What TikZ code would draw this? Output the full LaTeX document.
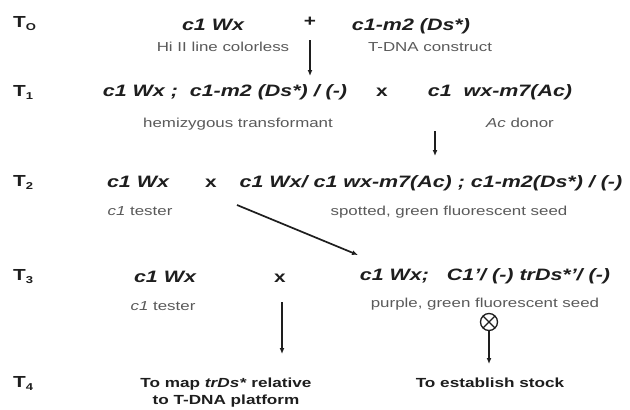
\documentclass[tikz,border=0pt]{standalone}
\usepackage{fontspec}
\setmainfont{Liberation Sans}[FakeStretch=1.3]
\usetikzlibrary{arrows.meta}
\definecolor{ink}{HTML}{1E1E1E}
\definecolor{soft}{HTML}{5A5A5A}
\begin{document}
\begin{tikzpicture}[x=1pt,y=-1pt,
  gen/.style={inner sep=0pt,anchor=base,text=ink,font=\fontsize{16.5}{18}\selectfont\bfseries\itshape},
  note/.style={inner sep=0pt,anchor=base,text=soft,font=\fontsize{13}{15}\selectfont},
  tlab/.style={inner sep=0pt,anchor=base west,text=ink,font=\fontsize{16}{18}\selectfont\bfseries},
  fin/.style={inner sep=0pt,anchor=base,text=ink,align=center,font=\fontsize{13.2}{17}\selectfont\bfseries},
  cross/.style={inner sep=0pt,anchor=base,text=ink,font=\fontsize{16}{18}\selectfont\bfseries},
  arr/.style={draw=ink,line width=1.7pt,-{Latex[length=6pt,width=5pt]}},
  selfing/.style={circle,draw=ink,line width=1.3pt,minimum size=17pt,inner sep=0pt,
    path picture={\draw[ink,line width=1.1pt] (path picture bounding box.north west)--(path picture bounding box.south east)
      (path picture bounding box.north east)--(path picture bounding box.south west);}}]
\useasboundingbox[fill=white] (0,0) rectangle (630,410);
% generation labels
\node[tlab] (t0) at (13,27) {T\raisebox{-3pt}{\fontsize{10}{10}\selectfont O}};
\node[tlab] (t1) at (13,96) {T\raisebox{-3pt}{\fontsize{10}{10}\selectfont 1}};
\node[tlab] (t2) at (13,186) {T\raisebox{-3pt}{\fontsize{10}{10}\selectfont 2}};
\node[tlab] (t3) at (13,280) {T\raisebox{-3pt}{\fontsize{10}{10}\selectfont 3}};
\node[tlab] (t4) at (13,387) {T\raisebox{-3pt}{\fontsize{10}{10}\selectfont 4}};
% T0
\node[gen] (g0a) at (213,30) {c1 Wx};
\node[inner sep=0pt,text=ink,font=\fontsize{16}{18}\selectfont\bfseries] (plus) at (310,22) {+};
\node[gen] (g0b) at (411,30) {c1-m2 (Ds*)};
\node[note] (n0a) at (223,51) {Hi II line colorless};
\node[note] (n0b) at (430,51) {T-DNA construct};
% T1
\node[gen] (g1a) at (225,96) {c1 Wx ;\ \ c1-m2 (Ds*) / (-)};
\node[cross] (x1) at (382,96) {x};
\node[gen] (g1b) at (500,96) {c1\ \ wx-m7(Ac)};
\node[note] (n1a) at (238,127) {hemizygous transformant};
\node[note] (n1b) at (520,127) {\textit{Ac} donor};
% T2
\node[gen] (g2a) at (138,187) {c1 Wx};
\node[cross] (x2) at (211,187) {x};
\node[gen] (g2b) at (431,187) {c1 Wx/ c1 wx-m7(Ac) ; c1-m2(Ds*) / (-)};
\node[note] (n2a) at (140,215) {\textit{c1} tester};
\node[note] (n2b) at (449,215) {spotted, green fluorescent seed};
% T3
\node[gen] (g3a) at (165,282) {c1 Wx};
\node[cross] (x3) at (280,282) {x};
\node[gen] (g3b) at (485,280) {c1 Wx;\ \ \ C1'/ (-) trDs*'/ (-)};
\node[note] (n3a) at (163,310) {\textit{c1} tester};
\node[note] (n3b) at (485,307) {purple, green fluorescent seed};
\node[selfing] (self) at (489,322) {};
% T4
\node[fin] (f1) at (226,404) {To map \textit{trDs*} relative\\to T-DNA platform};
\node[fin] (f2) at (490,387) {To establish stock};
% arrow ends
\coordinate (a1s) at (310,40);
\coordinate (a1e) at (310,76);
\coordinate (a2s) at (435,131);
\coordinate (a2e) at (435,156);
\coordinate (a3s) at (237,205);
\coordinate (a3e) at (358,255);
\coordinate (a4s) at (282,302);
\coordinate (a4e) at (282,354);
\coordinate (a5e) at (489,364);
\draw[arr] (a1s) -- (a1e);
\draw[arr] (a2s) -- (a2e);
\draw[arr] (a3s) -- (a3e);
\draw[arr] (a4s) -- (a4e);
\draw[arr] (self.south) -- (a5e);
\end{tikzpicture}
\end{document}
